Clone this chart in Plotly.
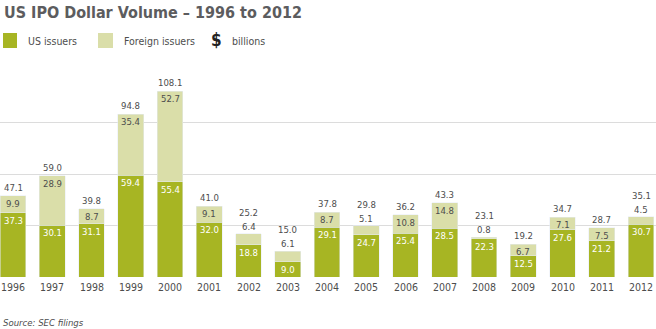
import plotly.graph_objects as go

years = list(range(1996, 2013))
us_issuers = [37.3, 30.1, 31.1, 59.4, 55.4, 32.0, 18.8, 9.0, 29.1, 24.7, 25.4, 28.5, 22.3, 12.5, 27.6, 21.2, 30.7]
foreign_issuers = [9.9, 28.9, 8.7, 35.4, 52.7, 9.1, 6.4, 6.1, 8.7, 5.1, 10.8, 14.8, 0.8, 6.7, 7.1, 7.5, 4.5]
totals = [47.1, 59.0, 39.8, 94.8, 108.1, 41.0, 25.2, 15.0, 37.8, 29.8, 36.2, 43.3, 23.1, 19.2, 34.7, 28.7, 35.1]

GREEN = "#a7b523"
LIGHT = "#dadea9"
TEXT = "#4d4d4d"
FONT = "DejaVu Sans Condensed"

W, H = 656, 329
TOP, BOTTOM = 71, 277  # plot area in pixels


def px(x):
    return x / W


def py(y):
    return (BOTTOM - y) / (BOTTOM - TOP)


fig = go.Figure()
fig.add_trace(go.Bar(x=years, y=us_issuers, marker_color=GREEN, width=0.66,
                     name="US issuers", hoverinfo="skip"))
fig.add_trace(go.Bar(x=years, y=foreign_issuers, marker_color=LIGHT, width=0.66,
                     name="Foreign issuers", hoverinfo="skip"))

ann = []
LAB = 9.5
lab_font = dict(family=FONT, size=LAB, color=TEXT)
for yr, us, fo, tot in zip(years, us_issuers, foreign_issuers, totals):
    # US value inside the top of the green segment
    ann.append(dict(x=yr, y=us, xref="x", yref="y", text=f"{us:.1f}", showarrow=False,
                    yanchor="top", yshift=0, font=dict(family=FONT, size=LAB, color="white")))
    top = us + fo
    if fo >= 6.5:
        ann.append(dict(x=yr, y=top, xref="x", yref="y", text=f"{fo:.1f}", showarrow=False,
                        yanchor="top", yshift=0, font=lab_font))
        ann.append(dict(x=yr, y=top, xref="x", yref="y", text=f"{tot:.1f}", showarrow=False,
                        yanchor="bottom", yshift=1, font=lab_font))
    else:
        ann.append(dict(x=yr, y=top, xref="x", yref="y", text=f"{fo:.1f}", showarrow=False,
                        yanchor="bottom", yshift=0, font=lab_font))
        ann.append(dict(x=yr, y=top, xref="x", yref="y", text=f"{tot:.1f}", showarrow=False,
                        yanchor="bottom", yshift=14, font=lab_font))
    # year label under the bar
    ann.append(dict(x=yr, y=py(287), xref="x", yref="paper", text=str(yr), showarrow=False,
                    yanchor="middle", font=dict(family=FONT, size=10.5, color=TEXT)))

# Title
ann.append(dict(x=px(2), y=py(13), xref="paper", yref="paper", xanchor="left", yanchor="middle",
                text="<b>US IPO Dollar Volume – 1996 to 2012</b>", showarrow=False,
                font=dict(family=FONT, size=16, color="#5c5c5e")))
# Legend
leg_font = dict(family=FONT, size=10.5, color=TEXT)
ann.append(dict(x=px(26), y=py(41), xref="paper", yref="paper", xanchor="left", yanchor="middle",
                text="US issuers", showarrow=False, font=leg_font))
ann.append(dict(x=px(122), y=py(41), xref="paper", yref="paper", xanchor="left", yanchor="middle",
                text="Foreign issuers", showarrow=False, font=leg_font))
ann.append(dict(x=px(209), y=py(40), xref="paper", yref="paper", xanchor="left", yanchor="middle",
                text="<b>$</b>", showarrow=False, font=dict(family=FONT, size=17, color="#222")))
ann.append(dict(x=px(230), y=py(41), xref="paper", yref="paper", xanchor="left", yanchor="middle",
                text="billions", showarrow=False, font=leg_font))
# Source
ann.append(dict(x=px(1), y=py(322), xref="paper", yref="paper", xanchor="left", yanchor="middle",
                text="<i>Source: SEC filings</i>", showarrow=False,
                font=dict(family=FONT, size=9.5, color=TEXT)))

shapes = [
    dict(type="rect", xref="paper", yref="paper", x0=px(3), x1=px(17), y0=py(48), y1=py(33),
         fillcolor=GREEN, line_width=0),
    dict(type="rect", xref="paper", yref="paper", x0=px(98), x1=px(113), y0=py(48), y1=py(33),
         fillcolor=LIGHT, line_width=0),
]

fig.update_layout(
    barmode="stack",
    width=W, height=H,
    margin=dict(l=0, r=0, t=TOP, b=H - BOTTOM),
    plot_bgcolor="white", paper_bgcolor="white",
    showlegend=False,
    annotations=ann,
    shapes=shapes,
    xaxis=dict(range=[1996 - 13 / 39.25, 1996 + (W - 13) / 39.25],
               showticklabels=False, showgrid=False, zeroline=False, ticks="", showline=False),
    yaxis=dict(range=[0, 120], tickvals=[0, 30, 60, 90, 120], showticklabels=False,
               showgrid=True, gridcolor="#dcdcdc", gridwidth=1, zeroline=False),
)

fig.write_html("out.html")
